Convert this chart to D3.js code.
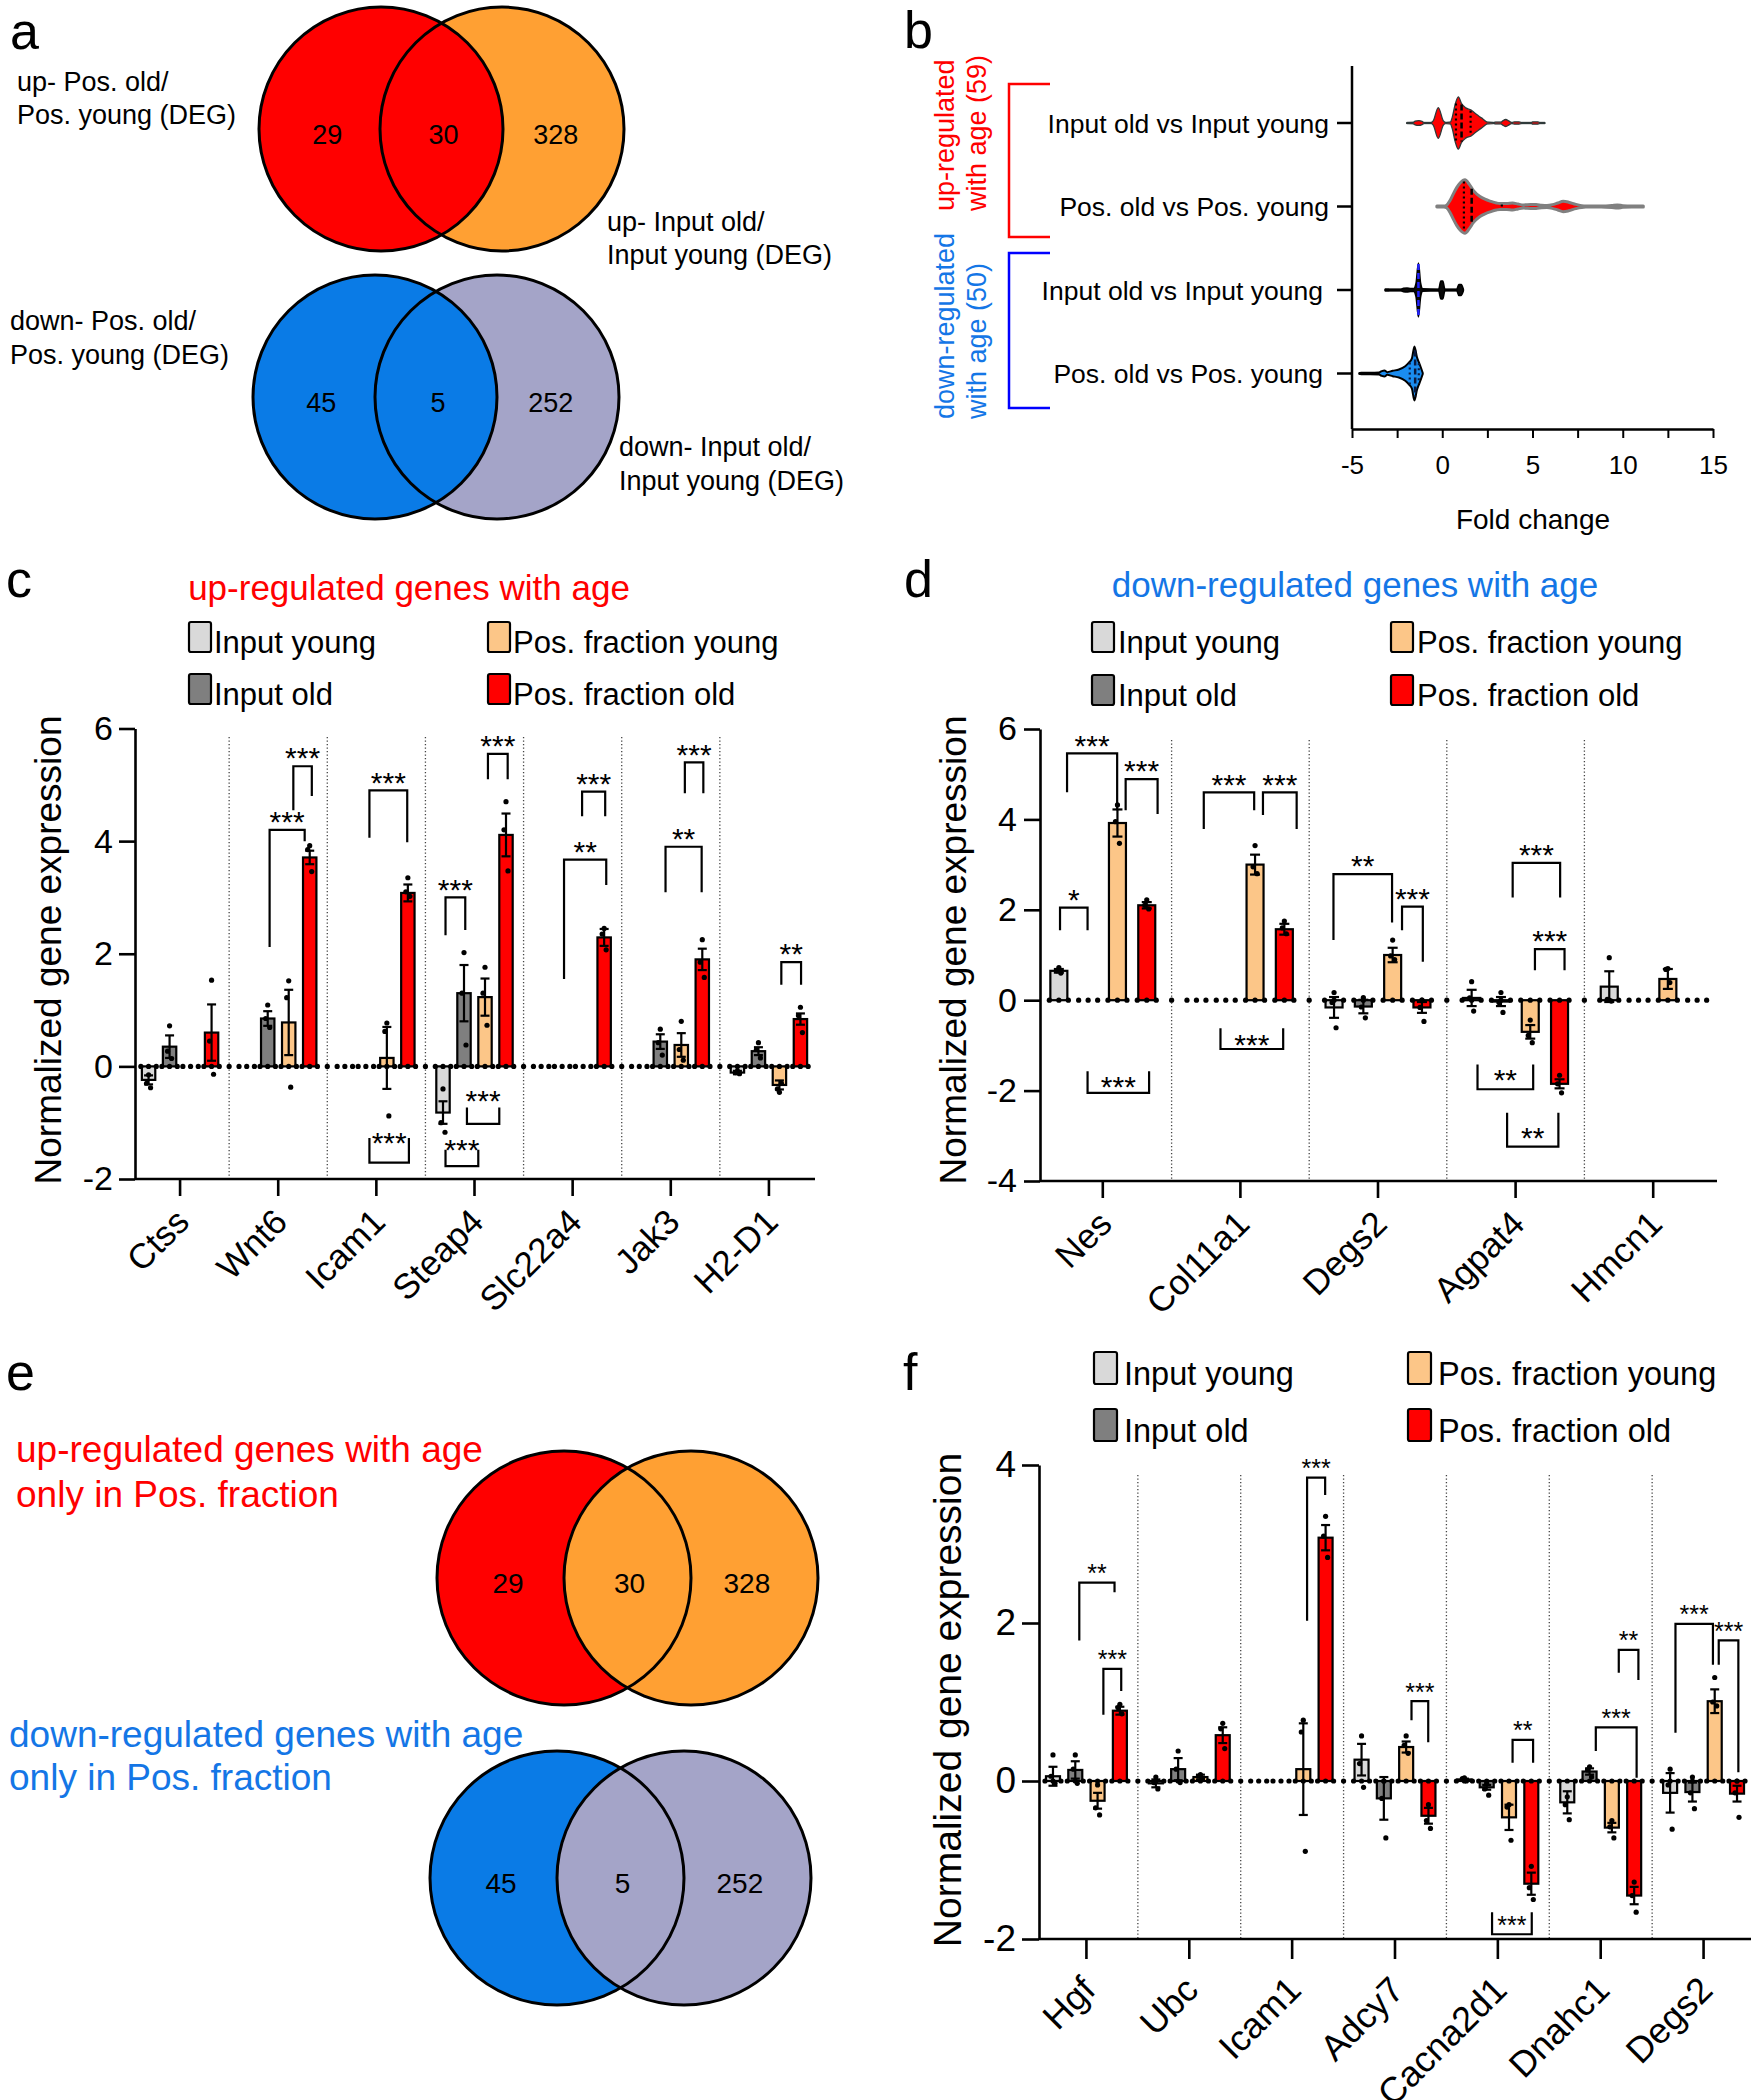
<!DOCTYPE html>
<html><head><meta charset="utf-8">
<script src="https://cdn.jsdelivr.net/npm/d3@7/dist/d3.min.js"></script>
<style>
html,body{margin:0;padding:0;background:#fff;}
svg text{font-family:"Liberation Sans",Arial,Helvetica,sans-serif;fill:#000;}
</style></head><body>
<svg id="fig" width="1751" height="2100" xmlns="http://www.w3.org/2000/svg"></svg>
<script>
// ======================= DATA =======================
const groupNames = ["Input young", "Input old", "Pos. fraction young", "Pos. fraction old"];
const groupColors = ["#d9d9d9", "#7f7f7f", "#fcc688", "#ff0000"];

// Venn diagrams (a, e)
const vennUpCounts = [29, 30, 328];
const vennDownCounts = [45, 5, 252];
const vennAUpLeft = ["up- Pos. old/", "Pos. young (DEG)"];
const vennAUpRight = ["up- Input old/", "Input young (DEG)"];
const vennADownLeft = ["down- Pos. old/", "Pos. young (DEG)"];
const vennADownRight = ["down- Input old/", "Input young (DEG)"];
const eUpTitle = ["up-regulated genes with age", "only in Pos. fraction"];
const eDownTitle = ["down-regulated genes with age", "only in Pos. fraction"];

// Violin plot (b): [fold change, relative density]
const violinRowLabels = ["Input old vs Input young", "Pos. old vs Pos. young", "Input old vs Input young", "Pos. old vs Pos. young"];
const violinGroupLabels = [["up-regulated", "with age (59)"], ["down-regulated", "with age (50)"]];
const foldTickValues = [-5, -2.5, 0, 2.5, 5, 7.5, 10, 12.5, 15];
const violinUpInput = [[-1.97,0.015],[-1.62,0.02],[-1.5,0.07],[-1.3,0.09],[-1.12,0.06],[-1.0,0.015],[-0.62,0.015],[-0.5,0.08],[-0.22,0.57],[0.06,0.08],[0.2,0.015],[0.45,0.03],[0.55,0.2],[0.72,0.7],[0.89,0.97],[1.07,0.72],[1.3,0.56],[1.6,0.48],[1.8,0.37],[2.0,0.27],[2.25,0.15],[2.5,0.03],[2.85,0.015],[2.95,0.03],[3.25,0.03],[3.35,0.08],[3.52,0.13],[3.7,0.07],[3.85,0.015],[4.0,0.04],[4.25,0.04],[4.4,0.015],[4.95,0.015],[5.0,0.04],[5.3,0.04],[5.4,0.015],[5.69,0.015]];
const violinUpPos = [[-0.3,0.015],[0.1,0.02],[0.24,0.05],[0.43,0.22],[0.6,0.45],[0.8,0.7],[1.0,0.88],[1.26,0.99],[1.5,0.82],[1.72,0.6],[2.09,0.37],[2.4,0.26],[2.65,0.2],[3.0,0.13],[3.2,0.11],[3.57,0.11],[3.9,0.13],[4.2,0.09],[4.5,0.06],[4.9,0.07],[5.2,0.07],[5.5,0.05],[5.8,0.04],[6.1,0.07],[6.4,0.13],[6.7,0.19],[7.0,0.16],[7.4,0.08],[7.95,0.02],[8.8,0.02],[9.4,0.04],[9.7,0.06],[10.0,0.03],[10.5,0.015],[11.14,0.015]];
const violinDownInput = [[-3.17,0.03],[-3.05,0.03],[-2.9,0.015],[-2.3,0.02],[-2.15,0.06],[-1.95,0.07],[-1.75,0.05],[-1.58,0.05],[-1.45,0.25],[-1.32,1.0],[-1.2,0.25],[-1.08,0.04],[-0.2,0.02],[-0.08,0.33],[0.03,0.33],[0.15,0.02],[0.8,0.02],[0.92,0.2],[1.05,0.2],[1.17,0.03]];
const violinDownPos = [[-4.6,0.015],[-4.5,0.03],[-4.0,0.03],[-3.5,0.04],[-3.35,0.09],[-3.2,0.11],[-3.05,0.05],[-2.75,0.1],[-2.4,0.15],[-2.05,0.27],[-1.85,0.4],[-1.68,0.56],[-1.54,1.0],[-1.4,0.6],[-1.3,0.42],[-1.2,0.25],[-1.08,0.02]];
const quartDotted = [[0.76, 1.57], [1.2, 3.3], [], [-1.8, -1.3]];
const quartDashed = [[1.07], [1.63], [-1.32], [-1.5]];

// Panel c: up-regulated genes
const genesC = ["Ctss", "Wnt6", "Icam1", "Steap4", "Slc22a4", "Jak3", "H2-D1"];
const meanC = [
  [-0.24, 0.35, 0, 0.6],
  [0, 0.85, 0.78, 3.71],
  [0, 0, 0.15, 3.08],
  [-0.82, 1.3, 1.23, 4.11],
  [0, 0, 0, 2.29],
  [0, 0.44, 0.38, 1.9],
  [-0.11, 0.27, -0.33, 0.84]
];
const seC = [
  [0.08, 0.2, 0, 0.5],
  [0, 0.13, 0.58, 0.12],
  [0, 0, 0.55, 0.15],
  [0.2, 0.5, 0.33, 0.38],
  [0, 0, 0, 0.15],
  [0, 0.13, 0.21, 0.19],
  [0.03, 0.07, 0.08, 0.1]
];
const ptsC = [
  [[-0.15, -0.3, -0.38], [0.72, 0.27, 0.14], [], [1.53, 0.45, -0.14]],
  [[], [1.09, 0.85, 0.69], [1.52, 1.22, -0.37], [3.92, 3.85, 3.46]],
  [[], [], [0.77, 0.62, -0.88], [3.35, 3.1, 3.02]],
  [[-0.4, -1.0, -1.17], [2.02, 1.3, 0.38], [1.76, 1.3, 0.73], [4.7, 4.2, 3.47]],
  [[], [], [], [2.45, 2.35, 2.07]],
  [[], [0.66, 0.42, 0.2], [0.8, 0.3, 0.11], [2.25, 1.85, 1.58]],
  [[-0.08, -0.11, -0.13], [0.42, 0.3, 0.15], [-0.46, -0.4, -0.3], [1.05, 0.9, 0.6]]
];
// [gene index, from bar, to bar, bracket value, left leg value, right leg value, label, label value]
const bracketsC = [
  [1, 1.09, 2.76, 4.2, 2.12, 4.0, "***", null],
  [1, 2.22, 3.1, 5.33, 4.55, 4.8, "***", null],
  [2, 1.17, 2.97, 4.9, 4.06, 3.98, "***", null],
  [2, 1.17, 3.05, -1.71, -1.27, -1.27, "***", -1.23],
  [3, 0.12, 1.06, 3.0, 2.33, 2.42, "***", null],
  [3, 2.14, 3.08, 5.55, 5.1, 5.1, "***", null],
  [3, 1.14, 2.68, -1.02, -0.73, -0.73, "***", -0.49],
  [3, 0.12, 1.68, -1.77, -1.48, -1.48, "***", -1.35],
  [4, 1.09, 3.1, 3.67, 1.55, 3.22, "**", null],
  [4, 1.95, 3.05, 4.88, 4.44, 4.44, "***", null],
  [5, 1.25, 2.97, 3.9, 3.09, 3.09, "**", null],
  [5, 2.17, 3.05, 5.4, 4.85, 4.85, "***", null],
  [6, 2.09, 3.03, 1.85, 1.45, 1.45, "**", null]
];

// Panel d: down-regulated genes
const genesD = ["Nes", "Col11a1", "Degs2", "Agpat4", "Hmcn1"];
const meanD = [
  [0.65, 0, 3.92, 2.1],
  [0, 0, 3.0, 1.57],
  [-0.16, -0.14, 1.0, -0.16],
  [0.05, -0.03, -0.7, -1.85],
  [0.3, 0, 0.47, 0]
];
const seD = [
  [0.04, 0, 0.3, 0.07],
  [0, 0, 0.22, 0.12],
  [0.23, 0.15, 0.16, 0.12],
  [0.18, 0.1, 0.15, 0.1],
  [0.34, 0, 0.22, 0]
];
const ptsD = [
  [[0.72, 0.65, 0.6], [], [4.32, 3.95, 3.47], [2.22, 2.1, 2.02]],
  [[], [], [3.42, 2.95, 2.8], [1.75, 1.6, 1.47]],
  [[0.17, -0.05, -0.61], [0.06, -0.15, -0.39], [1.33, 0.98, 0.9], [0.0, -0.16, -0.47]],
  [[0.41, 0.05, -0.24], [0.17, -0.05, -0.27], [-0.44, -0.78, -0.94], [-1.66, -1.85, -2.05]],
  [[0.94, 0.02, -0.02], [], [0.7, 0.68, 0.39], []]
];
const bracketsD = [
  [0, 0.04, 0.98, 2.05, 1.55, 1.55, "*", null],
  [0, 0.28, 1.99, 5.46, 4.6, 4.2, "***", null],
  [0, 2.28, 3.37, 4.89, 4.2, 4.12, "***", null],
  [0, 0.98, 3.08, -2.05, -1.57, -1.57, "***", -1.77],
  [1, 0.25, 1.97, 4.6, 3.79, 4.2, "***", null],
  [1, 2.27, 3.42, 4.6, 4.1, 3.79, "***", null],
  [1, 0.82, 2.96, -1.08, -0.62, -0.62, "***", -0.82],
  [2, -0.02, 1.98, 2.79, 1.33, 1.72, "**", null],
  [2, 2.32, 3.03, 2.07, 1.55, 0.85, "***", null],
  [3, 1.4, 3.02, 3.04, 2.27, 2.27, "***", null],
  [3, 2.16, 3.17, 1.13, 0.66, 0.66, "***", null],
  [3, 0.2, 2.1, -1.97, -1.42, -1.42, "**", -1.6],
  [3, 1.21, 2.96, -3.24, -2.49, -2.49, "**", -2.88]
];

// Panel f
const genesF = ["Hgf", "Ubc", "Icam1", "Adcy7", "Cacna2d1", "Dnahc1", "Degs2"];
const meanF = [
  [0.06, 0.14, -0.25, 0.89],
  [-0.03, 0.15, 0.05, 0.58],
  [0, 0, 0.15, 3.08],
  [0.27, -0.22, 0.43, -0.44],
  [0.02, -0.08, -0.46, -1.3],
  [-0.27, 0.12, -0.59, -1.45],
  [-0.15, -0.14, 1.01, -0.16]
];
const seF = [
  [0.12, 0.11, 0.1, 0.05],
  [0.05, 0.14, 0.03, 0.1],
  [0, 0, 0.58, 0.16],
  [0.2, 0.27, 0.07, 0.1],
  [0.01, 0.03, 0.16, 0.14],
  [0.14, 0.04, 0.06, 0.11],
  [0.25, 0.12, 0.15, 0.1]
];
const ptsF = [
  [[0.33, 0.06, -0.03], [0.33, 0.15, -0.03], [-0.05, -0.34, -0.43], [0.97, 0.93, 0.85]],
  [[0.05, -0.02, -0.1], [0.38, 0.15, -0.02], [0.08, 0.06, 0.03], [0.73, 0.66, 0.41]],
  [[], [], [0.77, 0.62, -0.89], [3.35, 3.1, 2.83]],
  [[0.57, 0.22, -0.08], [0.0, -0.22, -0.72], [0.57, 0.45, 0.35], [-0.3, -0.5, -0.6]],
  [[0.04, 0.03, 0.0], [-0.03, -0.1, -0.18], [-0.3, -0.33, -0.75], [-1.08, -1.35, -1.5]],
  [[-0.2, -0.3, -0.49], [0.18, 0.14, 0.05], [-0.5, -0.58, -0.72], [-1.28, -1.45, -1.66]],
  [[0.15, -0.05, -0.61], [0.05, -0.15, -0.35], [1.31, 1.0, 0.95], [0.0, -0.15, -0.46]]
];
const bracketsF = [
  [0, 1.18, 2.76, 2.51, 1.78, 2.39, "**", null],
  [0, 2.26, 3.06, 1.42, 0.84, 1.14, "***", null],
  [2, 2.17, 2.98, 3.84, 2.03, 3.62, "***", null],
  [3, 2.24, 2.99, 1.01, 0.77, 0.49, "***", null],
  [4, 2.16, 3.08, 0.52, 0.23, 0.23, "**", null],
  [4, 1.24, 3.02, -1.94, -1.66, -1.66, "***", -1.75],
  [5, 1.28, 3.11, 0.68, 0.38, 0.04, "***", null],
  [5, 2.31, 3.19, 1.66, 1.37, 1.28, "**", null],
  [6, 0.24, 1.92, 1.99, 0.61, 1.47, "***", null],
  [6, 2.18, 3.06, 1.78, 1.47, 0.11, "***", null]
];

// ======================= DRAWING =======================
const svg = d3.select("#fig");
const RED = "#ff0000", ORANGE = "#ffa033", BLUE = "#0a7be6", LAV = "#a4a4c8", TBLUE = "#1476e6";
const FF = '"Liberation Sans",Arial,sans-serif';

function txt(g, x, y, s, fs, opts = {}) {
  const t = g.append("text").attr("x", x).attr("y", y).attr("font-size", fs).text(s);
  if (opts.anchor) t.attr("text-anchor", opts.anchor);
  if (opts.fill) t.style("fill", opts.fill);
  if (opts.transform) t.attr("transform", opts.transform);
  return t;
}

// panel letters
[["a", 10, 49], ["b", 904, 48], ["c", 6, 597], ["d", 904, 597], ["e", 6, 1390], ["f", 903, 1390]]
  .forEach(([l, x, y]) => txt(svg, x, y, l, 52));

// ---------- Venn ----------
function venn(cxL, cxR, cy, r, colL, colR, leftOnTop, counts, fs) {
  const g = svg.append("g");
  const order = leftOnTop ? [[cxR, colR], [cxL, colL]] : [[cxL, colL], [cxR, colR]];
  order.forEach(([cx, col]) => g.append("circle").attr("cx", cx).attr("cy", cy).attr("r", r).attr("fill", col));
  [cxL, cxR].forEach(cx => g.append("circle").attr("cx", cx).attr("cy", cy).attr("r", r)
    .attr("fill", "none").attr("stroke", "#000").attr("stroke-width", 3));
  const pos = [cxL - 0.44 * r, (cxL + cxR) / 2 + 2, cxR + 0.44 * r];
  counts.forEach((c, i) => txt(g, pos[i], cy + 15, c, fs, { anchor: "middle" }));
}
venn(381, 502, 129, 122, RED, ORANGE, true, vennUpCounts, 27);
venn(375, 497, 397, 122, BLUE, LAV, true, vennDownCounts, 27);
vennAUpLeft.forEach((s, i) => txt(svg, 17, 91 + i * 33, s, 27));
vennAUpRight.forEach((s, i) => txt(svg, 607, 231 + i * 33, s, 27));
vennADownLeft.forEach((s, i) => txt(svg, 10, 330 + i * 34, s, 27));
vennADownRight.forEach((s, i) => txt(svg, 619, 456 + i * 34, s, 27));

venn(564, 691, 1578, 127, RED, ORANGE, false, vennUpCounts, 28);
venn(557, 684, 1878, 127, BLUE, LAV, false, vennDownCounts, 28);
eUpTitle.forEach((s, i) => txt(svg, 16, 1462 + i * 45, s, 37, { fill: RED }));
eDownTitle.forEach((s, i) => txt(svg, 9, 1747 + i * 43, s, 37, { fill: TBLUE }));

// ---------- Violin panel b ----------
(function () {
  const g = svg.append("g");
  const xb = d3.scaleLinear().domain([-5, 15]).range([1352, 1713]);
  const yb = d3.scalePoint().domain(d3.range(4)).range([123, 373.5]);
  const hb = d3.scaleLinear().domain([0, 1]).range([0, 27]);
  const violins = [violinUpInput, violinUpPos, violinDownInput, violinDownPos];
  const styles = [
    { fill: RED, stroke: "#2f3a3a", sw: 1.3, line: "#cfcfcf", lw: 3.5, q: "#000" },
    { fill: RED, stroke: "#808080", sw: 3, line: "#8c8c8c", lw: 3, q: "#000" },
    { fill: "#0a0a0a", stroke: "#000", sw: 1.6, line: "#000", lw: 3, q: "#2222ff" },
    { fill: "#1a8cf0", stroke: "#000", sw: 2, line: "#000", lw: 3, q: "#0a1a40" }
  ];
  const dens = (arr, v) => {
    for (let i = 0; i < arr.length - 1; i++) {
      if (v >= arr[i][0] && v <= arr[i + 1][0]) {
        const t = (v - arr[i][0]) / (arr[i + 1][0] - arr[i][0]);
        return arr[i][1] + t * (arr[i + 1][1] - arr[i][1]);
      }
    }
    return 0;
  };
  violins.forEach((arr, i) => {
    const cy = yb(i), st = styles[i];
    g.append("line").attr("x1", xb(arr[0][0])).attr("x2", xb(arr[arr.length - 1][0]))
      .attr("y1", cy).attr("y2", cy).attr("stroke", st.line).attr("stroke-width", st.lw);
    const area = d3.area().x(d => xb(d[0])).y0(d => cy - hb(d[1])).y1(d => cy + hb(d[1])).curve(d3.curveMonotoneX);
    g.append("path").attr("d", area(arr)).attr("fill", st.fill).attr("stroke", st.stroke)
      .attr("stroke-width", st.sw).attr("stroke-linejoin", "round");
    quartDotted[i].forEach(v => {
      const h = hb(dens(arr, v)) - 1;
      g.append("line").attr("x1", xb(v)).attr("x2", xb(v)).attr("y1", cy - h).attr("y2", cy + h)
        .attr("stroke", st.q).attr("stroke-width", 2.2).attr("stroke-dasharray", "2,3");
    });
    quartDashed[i].forEach(v => {
      const h = hb(dens(arr, v)) - 1;
      g.append("line").attr("x1", xb(v)).attr("x2", xb(v)).attr("y1", cy - h).attr("y2", cy + h)
        .attr("stroke", st.q).attr("stroke-width", 2.5).attr("stroke-dasharray", "6,3");
    });
  });
  // axes
  g.append("line").attr("x1", 1352).attr("x2", 1352).attr("y1", 66).attr("y2", 429)
    .attr("stroke", "#000").attr("stroke-width", 2.5);
  d3.range(4).forEach(i => g.append("line").attr("x1", 1337).attr("x2", 1352).attr("y1", yb(i)).attr("y2", yb(i))
    .attr("stroke", "#000").attr("stroke-width", 2.5));
  const ax = g.append("g").attr("transform", "translate(0,429)")
    .call(d3.axisBottom(xb).tickValues(foldTickValues).tickSize(9).tickSizeOuter(0)
      .tickFormat(d => d % 5 === 0 ? String(d) : ""));
  ax.select(".domain").attr("stroke-width", 2.5);
  ax.selectAll(".tick line").attr("stroke-width", 2);
  ax.selectAll(".tick text").attr("font-size", 26).attr("y", 27).style("font-family", FF);
  txt(g, 1533, 529, "Fold change", 28, { anchor: "middle" });
  violinRowLabels.forEach((s, i) => txt(g, i < 2 ? 1329 : 1323, yb(i) + 9.5, s, 26.5, { anchor: "end" }));
  // brackets
  g.append("path").attr("d", "M1050,84H1009V237H1050").attr("fill", "none").attr("stroke", RED).attr("stroke-width", 2.5);
  g.append("path").attr("d", "M1050,253H1009V408H1050").attr("fill", "none").attr("stroke", "#0000ff").attr("stroke-width", 2.5);
  const cols = [RED, TBLUE];
  const starts = [211, 419];
  violinGroupLabels.forEach((pair, k) => {
    pair.forEach((s, j) => txt(g, 0, 0, s, 27, { fill: cols[k], transform: `translate(${954 + j * 32},${starts[k]}) rotate(-90)` }));
  });
})();

// ---------- Bar panels ----------
function legend(c) {
  const g = svg.append("g");
  const slots = [[0, 0], [0, 1], [1, 0], [1, 1]];
  slots.forEach(([col, row], i) => {
    const x = c.cols[col], y = c.rows[row];
    g.append("rect").attr("x", x).attr("y", y).attr("width", c.sw).attr("height", c.sh).attr("rx", 2)
      .attr("fill", groupColors[i]).attr("stroke", "#000").attr("stroke-width", 2.2);
    txt(g, x + c.dx, y + c.base, groupNames[i], c.fs);
  });
}

function barPanel(c) {
  const g = svg.append("g");
  const x = d3.scaleBand().domain(c.genes).range(c.bandX);
  const y = d3.scaleLinear().domain(c.domain).range(c.yRange);
  const sub = d3.scaleLinear().domain([0, 3]).range([-1.5 * c.sp, 1.5 * c.sp]);
  const cx = (gi, i) => x(c.genes[gi]) + x.bandwidth() / 2 + sub(i);
  const y0 = y(0);
  // separators
  c.genes.slice(1).forEach(gn => {
    const b = x(gn);
    g.append("line").attr("x1", b).attr("x2", b).attr("y1", c.sepTop).attr("y2", c.yRange[0])
      .attr("stroke", "#444").attr("stroke-width", 1.3).attr("stroke-dasharray", "1.3,2.2");
  });
  // bars + error bars
  c.genes.forEach((gn, gi) => {
    for (let i = 0; i < 4; i++) {
      const m = c.means[gi][i], s = c.ses[gi][i], px = cx(gi, i);
      if (m !== 0) {
        g.append("rect").attr("x", px - c.bw / 2).attr("width", c.bw)
          .attr("y", Math.min(y(m), y0)).attr("height", Math.abs(y(m) - y0))
          .attr("fill", groupColors[i]).attr("stroke", "#000").attr("stroke-width", 2.2);
      }
      if (s > 0) {
        g.append("line").attr("x1", px).attr("x2", px).attr("y1", y(m - s)).attr("y2", y(m + s))
          .attr("stroke", "#000").attr("stroke-width", 2.2);
        [m - s, m + s].forEach(v => g.append("line").attr("x1", px - c.cap).attr("x2", px + c.cap)
          .attr("y1", y(v)).attr("y2", y(v)).attr("stroke", "#000").attr("stroke-width", 2.2));
      }
    }
  });
  // baseline dots and points
  c.genes.forEach((gn, gi) => {
    for (let i = 0; i < 4; i++) {
      const px = cx(gi, i);
      [-c.bw / 2 - 1, 0, c.bw / 2 + 1].forEach(o => g.append("circle").attr("cx", px + o).attr("cy", y0).attr("r", c.pr));
      const offs = [0, -2, 2];
      c.pts[gi][i].forEach((v, k) => g.append("circle").attr("cx", px + offs[k]).attr("cy", y(v)).attr("r", c.pr));
    }
  });
  c.genes.slice(1).forEach(gn => g.append("circle").attr("cx", x(gn)).attr("cy", y0).attr("r", c.pr));
  // y axis
  const ay = g.append("g").attr("transform", `translate(${c.axisX[0]},0)`)
    .call(d3.axisLeft(y).tickValues(c.ticks).tickSize(c.yTick).tickPadding(c.yPad).tickSizeOuter(0).tickFormat(d => String(d)));
  ay.select(".domain").attr("stroke-width", 2.6);
  ay.selectAll(".tick line").attr("stroke-width", 2.6);
  ay.selectAll(".tick text").attr("font-size", c.tickFont).style("font-family", FF);
  // x axis
  g.append("line").attr("x1", c.axisX[0]).attr("x2", c.axisX[1]).attr("y1", c.yRange[0]).attr("y2", c.yRange[0])
    .attr("stroke", "#000").attr("stroke-width", 2.6);
  const ax = g.append("g").attr("transform", `translate(0,${c.yRange[0]})`)
    .call(d3.axisBottom(x).tickSize(c.xTick).tickSizeOuter(0));
  ax.select(".domain").remove();
  ax.selectAll(".tick line").attr("stroke-width", 2.6);
  ax.selectAll(".tick text").attr("font-size", c.catFont).attr("x", 0).attr("y", 0).attr("dy", null)
    .attr("text-anchor", "end").attr("transform", `translate(${c.catDx},${c.catDy}) rotate(-45)`)
    .style("font-family", FF);
  // y label
  txt(g, 0, 0, "Normalized gene expression", c.yLabel[2], { anchor: "middle", transform: `translate(${c.yLabel[0]},${c.yLabel[1]}) rotate(-90)` })
    .attr("dy", "0.35em");
  // brackets
  c.brackets.forEach(([gi, i1, i2, top, l1, l2, lab, tv]) => {
    const x1 = cx(gi, i1), x2 = cx(gi, i2);
    g.append("path").attr("d", `M${x1},${y(l1)}V${y(top)}H${x2}V${y(l2)}`)
      .attr("fill", "none").attr("stroke", "#000").attr("stroke-width", 2.2);
    const center = tv === null ? y(top) - 15 : y(tv);
    txt(g, (x1 + x2) / 2, center + 0.575 * c.starFont, lab, c.starFont, { anchor: "middle" });
  });
}

// Panel c
txt(svg, 409, 600, "up-regulated genes with age", 35, { anchor: "middle", fill: RED });
legend({ cols: [189, 488], rows: [622, 674], sw: 22, sh: 30, dx: 25, base: 30.5, fs: 31 });
barPanel({
  genes: genesC, means: meanC, ses: seC, pts: ptsC, brackets: bracketsC,
  bandX: [131, 818], axisX: [135, 815], yRange: [1179, 728.5], domain: [-2, 6], ticks: [-2, 0, 2, 4, 6],
  sp: 21, bw: 13.4, cap: 4.5, pr: 2.6, sepTop: 737, yTick: 16, yPad: 6, xTick: 17, tickFont: 34,
  catFont: 35, catDx: 11, catDy: 45, starFont: 30, yLabel: [48, 950, 37]
});

// Panel d
txt(svg, 1355, 597, "down-regulated genes with age", 35, { anchor: "middle", fill: TBLUE });
legend({ cols: [1092, 1391], rows: [622, 675], sw: 22, sh: 30, dx: 26, base: 30.5, fs: 31 });
barPanel({
  genes: genesD, means: meanD, ses: seD, pts: ptsD, brackets: bracketsD,
  bandX: [1034, 1722], axisX: [1040, 1717], yRange: [1181, 729], domain: [-4, 6], ticks: [-4, -2, 0, 2, 4, 6],
  sp: 29.3, bw: 17, cap: 5, pr: 2.6, sepTop: 740, yTick: 16, yPad: 7, xTick: 17, tickFont: 34,
  catFont: 35, catDx: 11, catDy: 45, starFont: 30, yLabel: [953, 950, 37]
});

// Panel f
legend({ cols: [1094, 1408], rows: [1352, 1409], sw: 23, sh: 32, dx: 30, base: 32.5, fs: 32.5 });
barPanel({
  genes: genesF, means: meanF, ses: seF, pts: ptsF, brackets: bracketsF,
  bandX: [1035, 1755], axisX: [1039, 1751], yRange: [1939, 1465], domain: [-2, 4], ticks: [-2, 0, 2, 4],
  sp: 22.3, bw: 14, cap: 4.5, pr: 2.6, sepTop: 1475, yTick: 17, yPad: 6, xTick: 20, tickFont: 37,
  catFont: 36, catDx: 11, catDy: 53, starFont: 25, yLabel: [947, 1700, 39]
});
</script>
</body></html>
